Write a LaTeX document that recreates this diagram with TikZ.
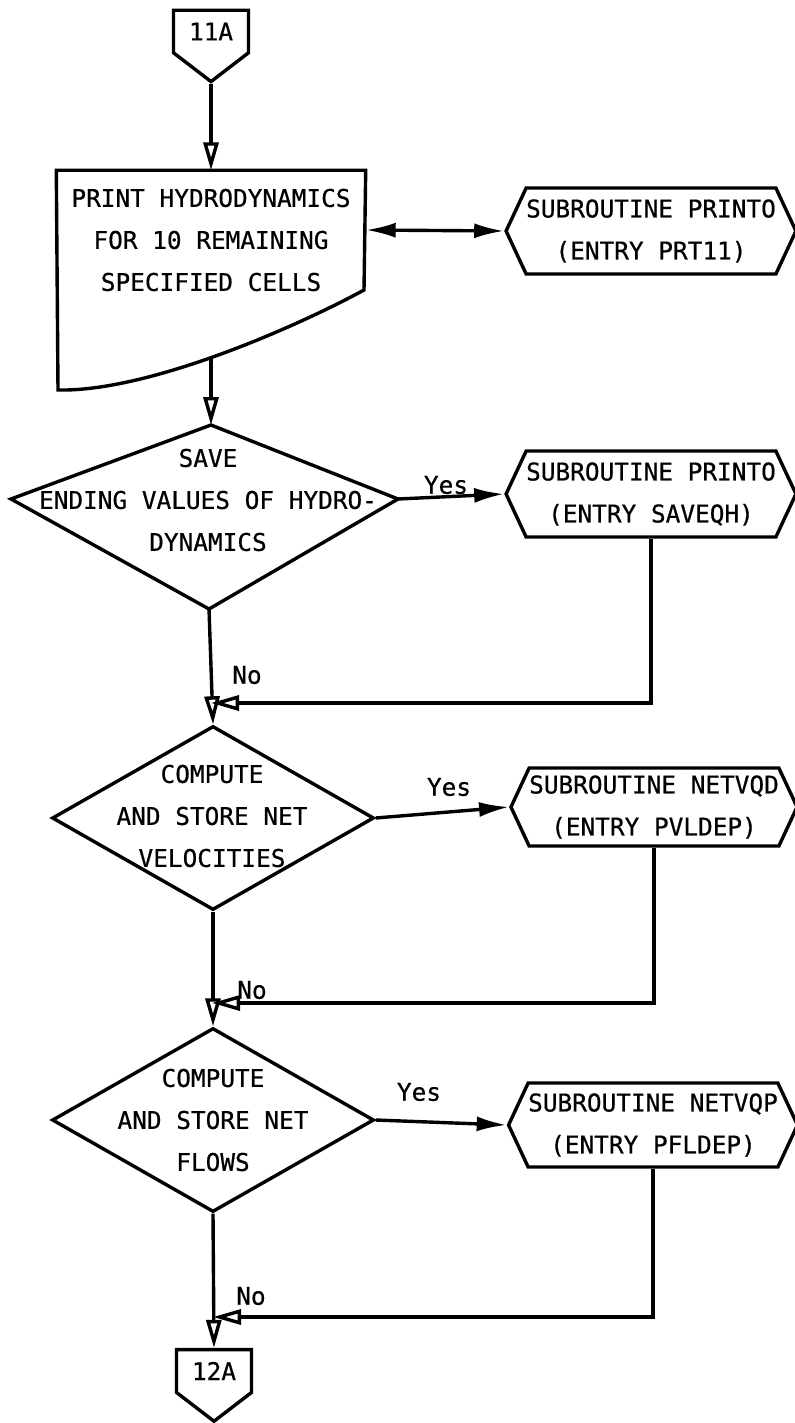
\documentclass[tikz,border=0pt]{standalone}
\usepackage{fontspec}
\setmainfont[FakeBold=0.6]{DejaVu Sans Mono}
\usetikzlibrary{arrows.meta,shapes.geometric,shapes.symbols}

\begin{document}
\begin{tikzpicture}[x=0.5pt, y=-0.5pt, line width=1.7pt,
  txt/.style={font=\fontsize{12.2}{21}\selectfont, align=center, inner sep=0pt},
  offpage/.style={txt, draw, shape=signal, signal to=south, signal pointer angle=105,
    minimum width=37.5pt, inner ysep=6.2pt},
  subr/.style={txt, draw, shape=signal, signal to=east and west, signal pointer angle=130,
    minimum width=128pt, minimum height=43pt},
  decision/.style={draw, shape=diamond, minimum width=161pt, minimum height=92pt, inner sep=0pt},
  flow/.style={-{Triangle[open, length=14pt, width=7.5pt]}},
  yesflow/.style={-{Latex[length=15pt, width=7.5pt]}},
  lbl/.style={font=\fontsize{12.2}{14}\selectfont, inner sep=0pt}]

\useasboundingbox (0,0) rectangle (795,1423);

% entry connector and print box
\node[offpage] (in11a) at (211,31.5) {11A};
\node[txt, minimum width=153pt, minimum height=68pt] (prt) at (211,240)
  {PRINT HYDRODYNAMICS\\FOR 10 REMAINING\\SPECIFIED CELLS};
\draw (prt.north west) -- (prt.north east) -- (364,290)
  .. controls (300,325) and (150,392) .. (58,390) -- cycle;
\coordinate (prtout) at (211,357);
\node[subr] (printo) at (651,231) {SUBROUTINE PRINTO\\(ENTRY PRT11)};

% save decision
\coordinate (savetop) at (211,425);
\coordinate (saveright) at (398,499);
\coordinate (savebot) at (209,609);
\coordinate (saveleft) at (11,499);
\draw (savetop) -- (saveright) -- (savebot) -- (saveleft) -- cycle;
\node[txt] (savetxt) at (208,500) {SAVE\\ENDING VALUES OF HYDRO-\\DYNAMICS};
\node[subr] (saveqh) at (651,494) {SUBROUTINE PRINTO\\(ENTRY SAVEQH)};

% net velocities
\node[decision] (velo) at (213,818) {};
\node[txt] (velotxt) at (212,816) {COMPUTE\\AND STORE NET\\VELOCITIES};
\node[subr, minimum height=39pt] (netvqd) at (654,807) {SUBROUTINE NETVQD\\(ENTRY PVLDEP)};

% net flows
\node[decision] (flows) at (213,1120) {};
\node[txt] (flowstxt) at (213,1120) {COMPUTE\\AND STORE NET\\FLOWS};
\node[subr, minimum height=42pt] (netvqp) at (653,1125) {SUBROUTINE NETVQP\\(ENTRY PFLDEP)};

\node[offpage] (out12a) at (214,1371) {12A};

\coordinate (join1) at (211,703);
\coordinate (join2) at (212,1003);
\coordinate (join3) at (213,1317);

% connectors
\draw[flow] (in11a.south) -- (prt.north);
\draw[{Latex[length=15pt, width=7.5pt]}-{Latex[length=15pt, width=7.5pt]}]
  ([yshift=5pt]prt.east) -- (printo.west);
\draw[flow] (prtout) -- (savetop);
\draw[yesflow] (saveright) -- (saveqh.west);
\draw[flow] (savebot) -- (velo.north);
\draw[flow] (saveqh.south) |- (join1);
\draw[yesflow] (velo.east) -- (netvqd.west);
\draw[flow] (velo.south) -- (flows.north);
\draw[flow] (netvqd.south) |- (join2);
\draw[yesflow] (flows.east) -- (netvqp.west);
\draw[flow] (flows.south) -- (out12a.north);
\draw[flow] (netvqp.south) |- (join3);

% branch labels
\node[lbl] (yes1) at (446,485) {Yes};
\node[lbl] (no1) at (247,675) {No};
\node[lbl] (yes2) at (449,787) {Yes};
\node[lbl] (no2) at (252,990) {No};
\node[lbl] (yes3) at (419,1092) {Yes};
\node[lbl] (no3) at (251,1296) {No};

\end{tikzpicture}
\end{document}
